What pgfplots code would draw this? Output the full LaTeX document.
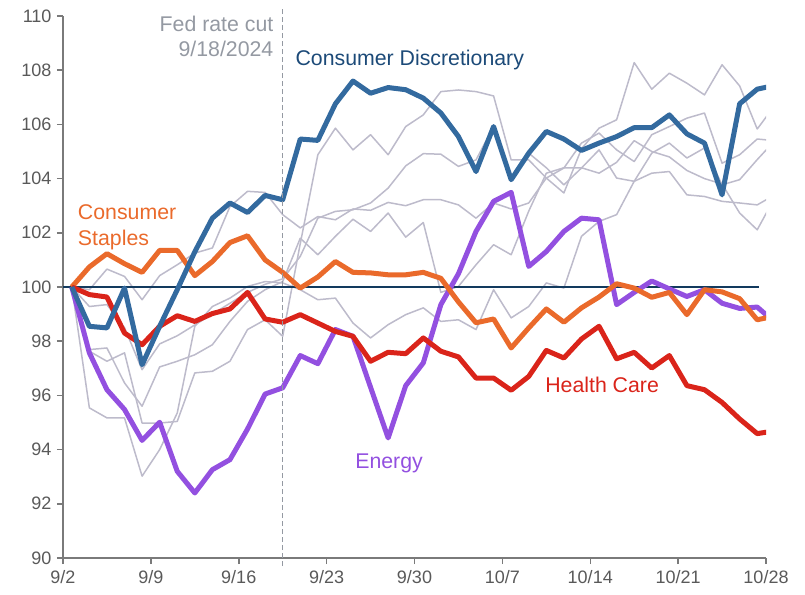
\documentclass[border=0pt]{standalone}
\usepackage{fontspec}
\setmainfont{Liberation Sans}
\usepackage{pgfplots}
\usepackage{pgfplotstable}
\pgfplotsset{compat=1.18}

\definecolor{cdblue}{HTML}{336A9F}
\definecolor{cdtext}{HTML}{1C4A78}
\definecolor{csorange}{HTML}{EA6A2B}
\definecolor{hcred}{HTML}{DA241A}
\definecolor{enpurple}{HTML}{9350E0}
\definecolor{sectorgray}{HTML}{BDBBCB}
\definecolor{refnavy}{HTML}{123A5E}
\definecolor{axisgray}{HTML}{7A7A7A}
\definecolor{ticktext}{HTML}{595959}
\definecolor{fedgray}{HTML}{9499A2}

% index 0 = 8/30 base, 1 = 9/3, ... one row per trading day
\pgfplotstableread{
i   cd      cs      hc      en
0   100     100     100     100
1   98.55   100.74  99.72   97.57
2   98.49   101.23  99.63   96.21
3   99.96   100.86  98.30   95.48
4   97.13   100.54  97.87   94.34
5   98.55   101.35  98.55   95.01
6   99.90   101.35  98.94   93.20
7   101.30  100.42  98.73   92.40
8   102.54  100.94  99.02   93.26
9   103.10  101.64  99.19   93.63
10  102.75  101.89  99.80   94.76
11  103.38  101.00  98.82   96.05
12  103.22  100.54  98.70   96.28
13  105.46  99.96   98.98   97.47
14  105.41  100.37  98.67   97.17
15  106.76  100.94  98.36   98.43
16  107.60  100.54  98.18   98.18
17  107.15  100.52  97.26   96.30
18  107.36  100.45  97.59   94.43
19  107.28  100.45  97.54   96.36
20  106.97  100.54  98.12   97.20
21  106.42  100.32  97.63   99.35
22  105.55  99.45   97.42   100.49
23  104.26  98.68   96.64   102.05
24  105.92  98.82   96.64   103.16
25  103.96  97.75   96.19   103.49
26  104.94  98.49   96.70   100.76
27  105.74  99.19   97.66   101.31
28  105.46  98.70   97.38   102.05
29  105.04  99.23   98.08   102.54
30  105.31  99.63   98.55   102.48
31  105.55  100.12  97.35   99.35
32  105.88  99.96   97.59   99.80
33  105.88  99.62   97.01   100.22
34  106.35  99.80   97.47   99.93
35  105.65  98.98   96.36   99.65
36  105.31  99.90   96.21   99.90
37  103.40  99.82   95.74   99.40
38  106.76  99.57   95.13   99.21
39  107.30  98.79   94.59   99.26
40  107.44  98.93   94.69   98.70
}\highlighted

% the other sectors, drawn in gray
\pgfplotstableread{
i   ga      gb      gc      gd      ge
0   100     100     100     100     100
1   97.63   95.54   99.90   99.28   97.69
2   97.26   95.17   100.66  99.35   97.75
3   97.57   95.17   100.39  98.50   96.46
4   94.98   93.02   99.53   96.95   95.60
5   94.98   94.00   100.42  97.90   97.05
6   95.04   95.35   100.82  98.20   97.26
7   96.83   98.55   101.25  98.60   97.50
8   96.89   99.28   101.44  99.00   97.87
9   97.26   99.59   102.97  99.40   98.73
10  98.43   100.02  103.53  99.80   99.47
11  98.79   100.20  103.49  100.10  99.90
12  98.18   100.15  102.67  100.30  100.20
13  101.60  99.90   102.18  101.13  101.80
14  104.88  99.53   102.60  102.54  101.19
15  105.86  99.59   102.48  102.79  101.87
16  105.06  98.67   102.88  102.85  102.50
17  105.62  98.12   102.83  103.10  102.05
18  104.88  98.61   103.12  103.65  102.73
19  105.92  98.98   103.00  104.47  101.84
20  106.35  99.23   103.22  104.92  102.38
21  107.21  98.73   103.22  104.90  99.80
22  107.27  98.79   103.03  104.45  100.02
23  107.21  98.43   102.54  104.69  100.82
24  107.05  99.90   103.10  105.92  101.56
25  104.69  98.86   102.88  103.90  101.19
26  104.69  99.28   103.10  104.94  102.80
27  104.02  100.15  104.02  104.40  104.20
28  103.47  99.96   104.39  103.77  104.40
29  105.10  101.87  105.31  104.39  104.40
30  105.86  102.42  105.68  105.06  104.20
31  106.17  102.67  105.06  104.02  104.60
32  108.28  103.90  104.63  103.90  105.40
33  107.30  104.20  105.62  104.94  105.00
34  107.89  104.26  105.92  105.31  104.80
35  107.52  103.40  106.23  104.76  104.30
36  107.09  103.34  106.42  105.13  104.00
37  108.20  103.16  104.57  103.77  103.80
38  107.42  103.10  104.88  103.96  102.73
39  105.83  103.03  105.46  104.70  102.11
40  106.70  103.40  105.40  105.40  103.30
}\others

\begin{document}
\begin{tikzpicture}[x=1pt,y=1pt]
\useasboundingbox (-63,-36) rectangle (742,558);
\begin{axis}[
    at={(0,0)}, anchor=south west,
    width=703pt, height=542pt, scale only axis,
    xmin=-0.5, xmax=39.5, ymin=90, ymax=110,
    clip mode=individual,
    axis x line*=bottom, axis y line*=left,
    axis line style={draw=axisgray, line width=1.5pt},
    tick style={draw=axisgray, line width=1.5pt},
    tick align=outside,
    major tick length=6pt,
    ytick={90,92,...,110},
    xtick={-0.5,4.5,...,39.5},
    xticklabels={9/2,9/9,9/16,9/23,9/30,10/7,10/14,10/21,10/28},
    /pgf/number format/assume math mode=true,
    ticklabel style={font=\fontsize{18}{20}\selectfont, text=ticktext},
    yticklabel style={xshift=-2pt},
    xticklabel style={yshift=-3pt},
    every axis plot/.append style={no markers, line join=round},
]
\foreach \s in {ga,gb,gc,gd,ge}{
  \addplot[sectorgray, line width=1.5pt] table[x=i, y=\s] {\others};
}
\addplot[refnavy, line width=1.8pt] coordinates {(-0.5,100) (39.1,100)};
\addplot[enpurple, line width=5pt] table[x=i, y=en] {\highlighted};
\addplot[csorange, line width=5pt] table[x=i, y=cs] {\highlighted};
\addplot[hcred, line width=5pt] table[x=i, y=hc] {\highlighted};
\addplot[cdblue, line width=5pt] table[x=i, y=cd] {\highlighted};

\draw[fedgray, line width=1.5pt, dash pattern=on 5pt off 3pt]
    (axis cs:12,89.7) -- (axis cs:12,110.25);

\begin{scope}[every node/.style={inner sep=0pt, font=\fontsize{21.3}{25}\selectfont}]
\node[anchor=base east, text=fedgray] at (axis cs:11.48,109.42) {Fed rate cut};
\node[anchor=base east, text=fedgray] at (axis cs:11.48,108.50) {9/18/2024};
\node[anchor=base west, text=cdtext] at (axis cs:12.72,108.19) {Consumer Discretionary};
\node[anchor=base west, text=csorange] at (axis cs:0.34,102.48) {Consumer};
\node[anchor=base west, text=csorange] at (axis cs:0.34,101.52) {Staples};
\node[anchor=base west, text=enpurple] at (axis cs:16.12,93.29) {Energy};
\node[anchor=base west, text=hcred] at (axis cs:26.93,96.09) {Health Care};
\end{scope}
\end{axis}
\end{tikzpicture}
\end{document}
